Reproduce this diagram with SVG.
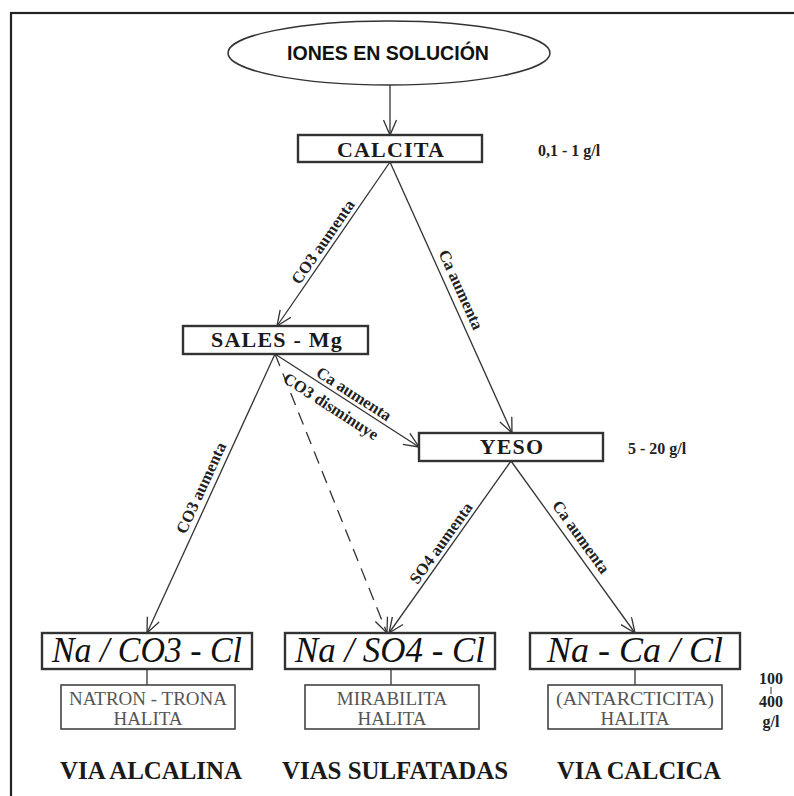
<svg xmlns="http://www.w3.org/2000/svg" width="794" height="796" viewBox="0 0 794 796">
<defs>
<marker id="arr" markerUnits="userSpaceOnUse" markerWidth="18" markerHeight="16" refX="16" refY="7" orient="auto">
<path d="M1,0.5 L16,7 L1,13.5" fill="none" stroke="#333" stroke-width="1.3"/>
</marker>
</defs>
<style>
.frame{fill:none;stroke:#222;stroke-width:2.2}
.box{fill:#fff;stroke:#333;stroke-width:2.4}
.sub{fill:#fff;stroke:#444;stroke-width:1.6}
.ln{stroke:#333;stroke-width:1.3;fill:none}
.dash{stroke:#333;stroke-width:1.3;fill:none;stroke-dasharray:13 8}
.t1{font-family:"Liberation Serif",serif;font-weight:bold;font-size:22px;fill:#1a1a1a;text-anchor:middle;letter-spacing:1.2px}
.t2{font-family:"Liberation Serif",serif;font-style:italic;font-size:35px;fill:#111;text-anchor:middle}
.t3{font-family:"Liberation Serif",serif;font-size:19px;fill:#555;text-anchor:middle}
.el{font-family:"Liberation Serif",serif;font-weight:bold;font-size:16.5px;fill:#222;text-anchor:middle}
.side{font-family:"Liberation Serif",serif;font-weight:bold;font-size:16px;fill:#222}
.via{font-family:"Liberation Serif",serif;font-weight:bold;font-size:26px;fill:#1a1a1a;text-anchor:middle}
</style>
<rect class="frame" x="11" y="13" width="800" height="800"/>
<g id="connectors">
<line class="ln" x1="390" y1="85" x2="390" y2="135" marker-end="url(#arr)"/>
<line class="ln" x1="390" y1="162" x2="277" y2="326" marker-end="url(#arr)"/>
<line class="ln" x1="390" y1="162" x2="512" y2="433" marker-end="url(#arr)"/>
<line class="ln" x1="275" y1="354" x2="419" y2="447" marker-end="url(#arr)"/>
<line class="ln" x1="275" y1="354" x2="147" y2="633" marker-end="url(#arr)"/>
<line class="dash" x1="275" y1="354" x2="387" y2="633" marker-end="url(#arr)"/>
<line class="ln" x1="511" y1="461" x2="389" y2="633" marker-end="url(#arr)"/>
<line class="ln" x1="511" y1="461" x2="635" y2="633" marker-end="url(#arr)"/>
<line class="ln" x1="147" y1="669" x2="147" y2="685"/>
<line class="ln" x1="391" y1="669" x2="391" y2="685"/>
<line class="ln" x1="635" y1="669" x2="635" y2="685"/>
<text class="el" transform="translate(327.5,245) rotate(-55.4)">CO3 aumenta</text>
<text class="el" transform="translate(456,292) rotate(65.7)">Ca aumenta</text>
<text class="el" transform="translate(351,398.5) rotate(32.8)">Ca aumenta</text>
<text class="el" transform="translate(328,411) rotate(32.8)">CO3 disminuye</text>
<text class="el" transform="translate(206,490.3) rotate(-65.3)">CO3 aumenta</text>
<text class="el" transform="translate(445.5,546.2) rotate(-54.4)">SO4 aumenta</text>
<text class="el" transform="translate(576.5,540.2) rotate(54.2)">Ca aumenta</text>
</g>
<g id="iones">
<ellipse cx="389" cy="53" rx="161" ry="32" fill="#fff" stroke="#333" stroke-width="1.5"/>
<text x="388" y="60" font-family="'Liberation Sans',Arial,sans-serif" font-weight="bold" font-size="20" fill="#111" text-anchor="middle" textLength="202" lengthAdjust="spacingAndGlyphs">IONES EN SOLUCIÓN</text>
</g>
<g id="calcita">
<rect class="box" x="298" y="135" width="184" height="27"/>
<text class="t1" x="391" y="157">CALCITA</text>
</g>
<g id="sales-mg">
<rect class="box" x="183" y="326" width="185" height="28"/>
<text class="t1" x="277" y="347">SALES - Mg</text>
</g>
<g id="yeso">
<rect class="box" x="419" y="433" width="184" height="28"/>
<text class="t1" x="512" y="454">YESO</text>
</g>
<g id="na-co3-cl">
<rect class="box" x="42" y="633" width="210" height="36"/>
<text class="t2" x="147" y="662" textLength="190" lengthAdjust="spacingAndGlyphs">Na / CO3 - Cl</text>
</g>
<g id="na-so4-cl">
<rect class="box" x="285" y="633" width="210" height="36"/>
<text class="t2" x="390" y="662" textLength="190" lengthAdjust="spacingAndGlyphs">Na / SO4 - Cl</text>
</g>
<g id="na-ca-cl">
<rect class="box" x="530" y="633" width="210" height="36"/>
<text class="t2" x="635" y="662" textLength="176" lengthAdjust="spacingAndGlyphs">Na - Ca / Cl</text>
</g>
<g id="natron">
<rect class="sub" x="61" y="685" width="174" height="44"/>
<text class="t3" x="148" y="705" textLength="158" lengthAdjust="spacingAndGlyphs">NATRON - TRONA</text>
<text class="t3" x="148" y="725">HALITA</text>
</g>
<g id="mirabilita">
<rect class="sub" x="305" y="685" width="174" height="44"/>
<text class="t3" x="392" y="705">MIRABILITA</text>
<text class="t3" x="392" y="725">HALITA</text>
</g>
<g id="antarcticita">
<rect class="sub" x="548" y="685" width="174" height="44"/>
<text class="t3" x="635" y="705" textLength="158" lengthAdjust="spacingAndGlyphs">(ANTARCTICITA)</text>
<text class="t3" x="635" y="725">HALITA</text>
</g>
<g id="labels">
<text class="side" x="538" y="156">0,1 - 1 g/l</text>
<text class="side" x="628" y="454">5 - 20 g/l</text>
<text class="side" x="771" y="684" text-anchor="middle">100</text>
<line x1="771" y1="687" x2="771" y2="694" stroke="#333" stroke-width="1"/>
<text class="side" x="771" y="707" text-anchor="middle">400</text>
<text class="side" x="771" y="727" text-anchor="middle">g/l</text>
<text class="via" x="151" y="779" textLength="182" lengthAdjust="spacingAndGlyphs">VIA ALCALINA</text>
<text class="via" x="395" y="779" textLength="226" lengthAdjust="spacingAndGlyphs">VIAS SULFATADAS</text>
<text class="via" x="639" y="779" textLength="164" lengthAdjust="spacingAndGlyphs">VIA CALCICA</text>
</g>
</svg>
